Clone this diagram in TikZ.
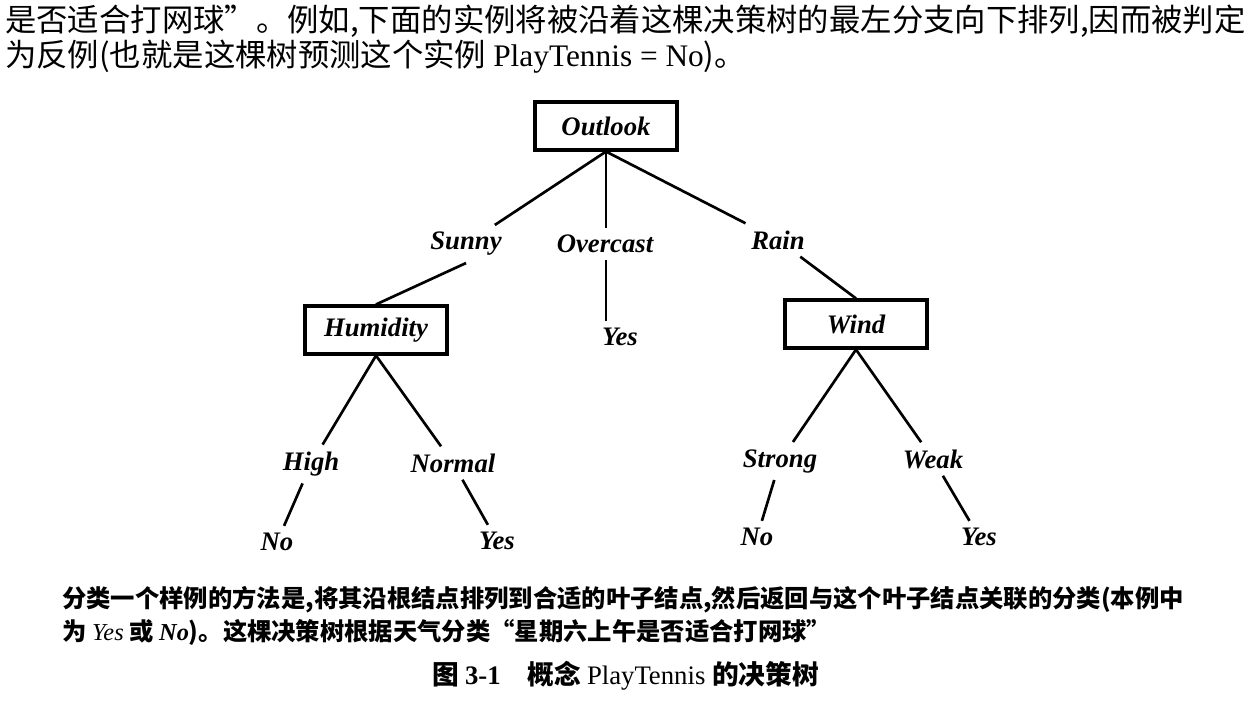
\documentclass[tikz,border=0pt]{standalone}
\usepackage{fontspec}
\setmainfont{Liberation Serif}
\newfontfamily\cjk{Noto Sans CJK SC}
\usetikzlibrary{positioning}

\begin{document}
\begin{tikzpicture}[x=0.025cm,y=-0.025cm,
  attr/.style={draw,line width=2.2pt,rectangle,
               minimum width=3.55cm,minimum height=1.2cm,
               font=\fontsize{19}{21}\selectfont\bfseries\itshape},
  val/.style={font=\fontsize{19}{21}\selectfont\bfseries\itshape,inner sep=5pt},
  edge/.style={line width=1.9pt},
  body/.style={anchor=base west,inner sep=0pt,font=\fontsize{22.3}{26}\selectfont},
  capt/.style={anchor=base west,inner sep=0pt,font=\fontsize{17.3}{20}\selectfont\bfseries},
]
  \useasboundingbox (0,0) rectangle (1260,706);

  %% running text above the figure
  \node[body](T1) at (5,31) {\cjk 是否适合打网球”。例如,下面的实例将被沿着这棵决策树的最左分支向下排列,因而被判定};
  \node[body](T2) at (5,66) {\cjk 为反例(也就是这棵树预测这个实例 \rmfamily PlayTennis = No\cjk )。};

  %% the tree
  \node[attr](Outlook) at (606,126) {Outlook};
  \node[val](Sunny) at (466,244) {Sunny};
  \node[val](Overcast) at (605,244) {Overcast};
  \node[val](Rain) at (778,240) {Rain};
  \node[attr](Humidity) at (376,330) {Humidity};
  \node[val](OYes) at (620,337) {Yes};
  \node[attr](Wind) at (856,324) {Wind};
  \node[val](High) at (311,464) {High};
  \node[val](Normal) at (453,463) {Normal};
  \node[val](Strong) at (780,461) {Strong};
  \node[val](Weak) at (933,459) {Weak};
  \node[val](HNo) at (277,542) {No};
  \node[val](HYes) at (497,541) {Yes};
  \node[val](WNo) at (757,537) {No};
  \node[val](WYes) at (979,537) {Yes};

  \draw[edge](Outlook.south) -- (Sunny);
  \draw[edge](Outlook.south) -- (Outlook.south |- Overcast.north);
  \draw[edge](Outlook.south) -- (Rain);
  \draw[edge](Sunny.south) -- (Humidity.north);
  \draw[edge](Overcast.south -| Outlook.south) -- (Outlook.south |- OYes.north);
  \draw[edge](Rain) -- (Wind.north);
  \draw[edge](Humidity.south) -- (High);
  \draw[edge](Humidity.south) -- (Normal);
  \draw[edge](Wind.south) -- (Strong);
  \draw[edge](Wind.south) -- (Weak);
  \draw[edge](High) -- (HNo);
  \draw[edge](Normal) -- (HYes);
  \draw[edge](Strong) -- (WNo);
  \draw[edge](Weak) -- (WYes);

  %% caption
  \node[capt](C1) at (62,607) {\cjk 分类一个样例的方法是,将其沿根结点排列到合适的叶子结点,然后返回与这个叶子结点关联的分类(本例中};
  \node[capt](C2) at (62,640) {\cjk 为 {\rmfamily\mdseries\itshape Yes} 或 {\rmfamily\itshape No})。这棵决策树根据天气分类“星期六上午是否适合打网球”};
  \node[capt,font=\fontsize{19}{22}\selectfont\bfseries](Title) at (432,684)
    {\cjk 图 \rmfamily 3-1\quad \cjk 概念 \rmfamily\mdseries PlayTennis \cjk\bfseries 的决策树};
\end{tikzpicture}
\end{document}
